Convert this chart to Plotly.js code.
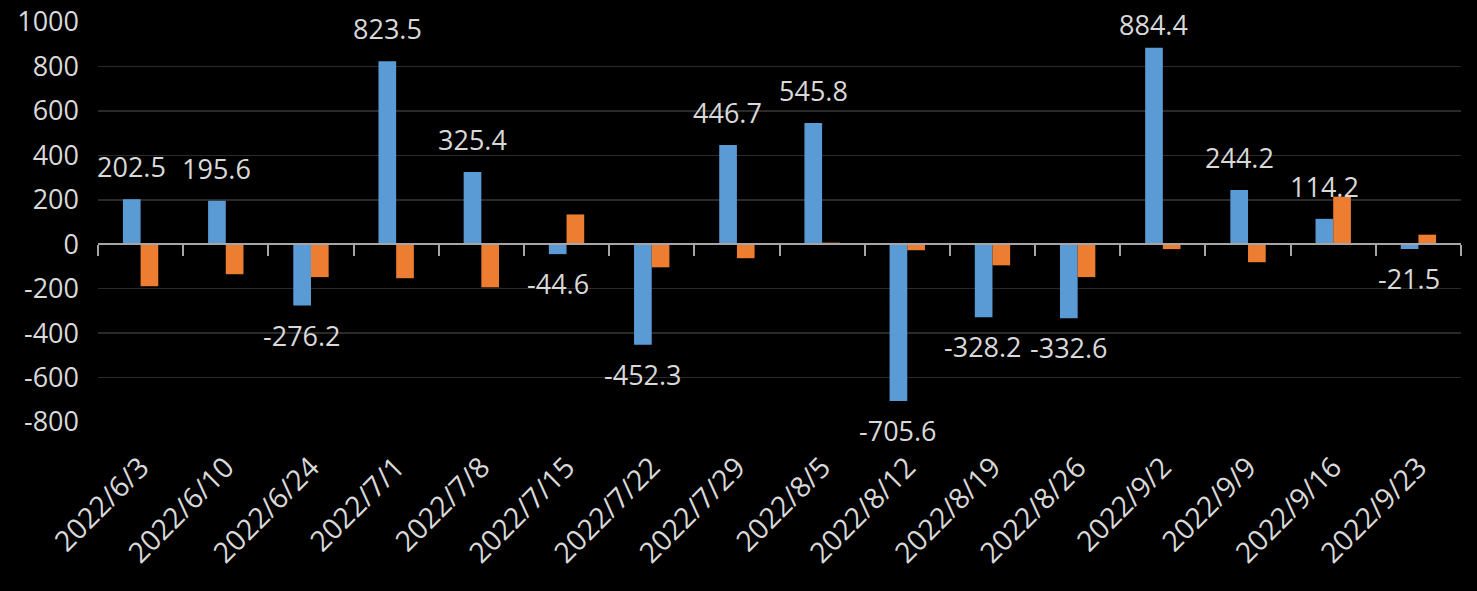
<!DOCTYPE html>
<html>
<head>
<meta charset="utf-8">
<script src="https://cdn.plot.ly/plotly-3.0.1.min.js"></script>
<style>html,body{margin:0;padding:0;background:#000;}#chart{width:1477px;height:591px;}</style>
</head>
<body>
<div id="chart"></div>
<script>
const dates = ["2022/6/3","2022/6/10","2022/6/24","2022/7/1","2022/7/8","2022/7/15","2022/7/22","2022/7/29","2022/8/5","2022/8/12","2022/8/19","2022/8/26","2022/9/2","2022/9/9","2022/9/16","2022/9/23"];
const blueValues = [202.5,195.6,-276.2,823.5,325.4,-44.6,-452.3,446.7,545.8,-705.6,-328.2,-332.6,884.4,244.2,114.2,-21.5];
const orangeValues = [-189,-135,-148,-153,-194,134,-104,-63,7,-27,-95,-148,-22,-81,214,43];
const yTickValues = [-800,-600,-400,-200,0,200,400,600,800,1000];
const yTickLabels = ["-800","-600","-400","-200","0","200","400","600","800","1000"];

const textColor = "#d9d9d9";
const fontFamily = "'Open Sans', 'Noto Sans', sans-serif";
const fontSize = 27;

const W = 1477, H = 591;
const M = {l:98, r:16, t:22, b:169};
const yMin = -800, yMax = 1000;
const plotH = H - M.t - M.b;

const boundaryTicks = [];
for (let i = 0; i <= dates.length; i++) boundaryTicks.push(i - 0.5);

const traces = [
  {type:"bar", x:dates, y:blueValues, marker:{color:"#5b9bd5"}, hoverinfo:"skip", showlegend:false},
  {type:"bar", x:dates, y:orangeValues, marker:{color:"#ed7d31"}, hoverinfo:"skip", showlegend:false},
  {type:"scatter", x:[0], y:[0], xaxis:"x2", yaxis:"y", mode:"markers", marker:{opacity:0}, hoverinfo:"skip", showlegend:false}
];

// keep labels inside the chart area near the top (like the original, which pulls them down)
function labelShift(v) {
  if (v < 0) return -9;
  const barTopPx = M.t + (yMax - v) * plotH / (yMax - yMin);
  return Math.max(0, Math.min(12, barTopPx - 37 - 8));
}

const annotations = blueValues.map((v, i) => ({
  x: dates[i], y: v, xref:"x", yref:"y",
  text: v.toFixed(1),
  showarrow:false,
  xanchor:"center",
  yanchor: v >= 0 ? "bottom" : "top",
  xshift:-9,
  yshift: labelShift(v),
  font:{family:fontFamily, size:fontSize, color:textColor}
}));

const layout = {
  width:W, height:H,
  paper_bgcolor:"#000", plot_bgcolor:"#000",
  margin:M,
  barmode:"group", bargap:0.585, bargroupgap:0,
  font:{family:fontFamily, size:fontSize, color:textColor},
  xaxis:{type:"category", range:[-0.5, dates.length-0.5], showgrid:false, zeroline:false, showline:false,
         ticks:"", tickangle:-45, ticklabelstandoff:22,
         tickfont:{family:fontFamily, size:28.5, color:textColor}},
  xaxis2:{overlaying:"x", anchor:"free", position:(0 - yMin)/(yMax - yMin), range:[-0.5, dates.length-0.5],
          showgrid:false, zeroline:false, showline:true, linecolor:"#a6a6a6", linewidth:2,
          ticks:"outside", ticklen:11, tickwidth:2, tickcolor:"#a6a6a6",
          tickmode:"array", tickvals:boundaryTicks, showticklabels:false, side:"bottom"},
  yaxis:{range:[yMin,yMax], tickmode:"array", tickvals:yTickValues, ticktext:yTickLabels,
         showgrid:true, gridcolor:"#2a2a2a", gridwidth:1.5, zeroline:false, showline:false,
         ticks:"", ticklabelstandoff:18,
         tickfont:{family:fontFamily, size:fontSize, color:textColor}},
  annotations:annotations
};

Plotly.newPlot("chart", traces, layout, {staticPlot:true, displayModeBar:false});
</script>
</body>
</html>
